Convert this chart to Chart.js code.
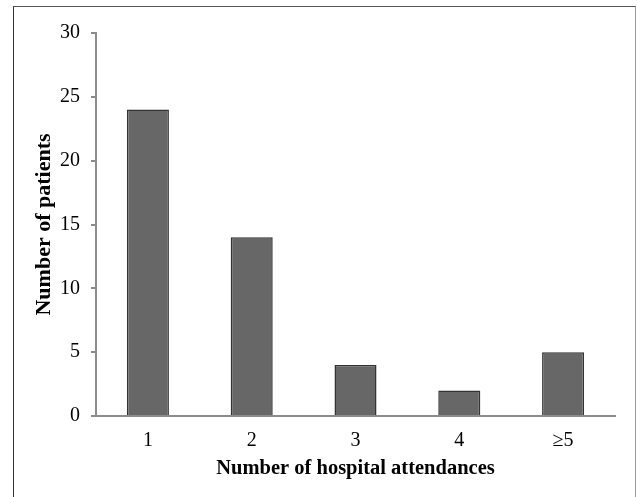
<!DOCTYPE html>
<html>
<head>
<meta charset="utf-8">
<script src="https://cdn.jsdelivr.net/npm/chart.js@4"></script>
<style>
  html, body { margin: 0; padding: 0; background: #fff; }
  #wrap { position: relative; width: 637px; height: 497px; }
  #frame {
    position: absolute; left: 13px; top: 6px; width: 621px; height: 500px;
    border-left: 1.5px solid #333; border-top: 1.5px solid #555; border-right: 1.5px solid #999;
    pointer-events: none;
  }
  canvas { position: absolute; left: 0; top: 0; }
</style>
</head>
<body>
<div id="wrap">
  <canvas id="chartAttend" width="637" height="497"></canvas>
  <div id="frame"></div>
</div>
<script>
// Pacientes por numero de visitas
const categorias = ['1', '2', '3', '4', '\u22655'];
const pacientes = [24, 14, 4, 2, 5];
const yTicks = [0, 5, 10, 15, 20, 25, 30];

const serif = "'Liberation Serif', 'Times New Roman', serif";

const ctx = document.getElementById('chartAttend').getContext('2d');
const chart = new Chart(ctx, {
    type: 'bar',
    data: {
        labels: categorias,
        datasets: [{
            data: pacientes,
            backgroundColor: '#676767',
            borderColor: '#333333',
            borderWidth: 1.5,
            barPercentage: 0.405,
            categoryPercentage: 1
        }]
    },
    options: {
        responsive: false,
        animation: false,
        layout: {
            padding: { top: 33, right: 22, bottom: 16, left: 31 }
        },
        plugins: {
            legend: { display: false },
            tooltip: { enabled: false }
        },
        scales: {
            x: {
                grid: { display: false, drawTicks: false },
                border: { display: true, color: '#8c8c8c', width: 2 },
                ticks: {
                    color: '#000',
                    padding: 13,
                    font: { family: serif, size: 20 }
                },
                title: {
                    display: true,
                    text: 'Number of hospital attendances',
                    color: '#000',
                    padding: 0,
                    font: { family: serif, size: 20.5, weight: 'bold' }
                },
                afterFit: (s) => { s.height = 65; }
            },
            y: {
                min: 0,
                max: 30,
                afterBuildTicks: (s) => { s.ticks = yTicks.map(v => ({ value: v })); },
                grid: { drawOnChartArea: false, drawTicks: true, tickLength: 5, color: '#8c8c8c', lineWidth: 2 },
                border: { display: true, color: '#8c8c8c', width: 2 },
                ticks: {
                    color: '#000',
                    padding: 11,
                    font: { family: serif, size: 20 }
                },
                title: {
                    display: true,
                    text: 'Number of patients',
                    color: '#000',
                    padding: 0,
                    font: { family: serif, size: 22, weight: 'bold' }
                },
                afterFit: (s) => { s.width = 65; }
            }
        }
    }
});
</script>
</body>
</html>
